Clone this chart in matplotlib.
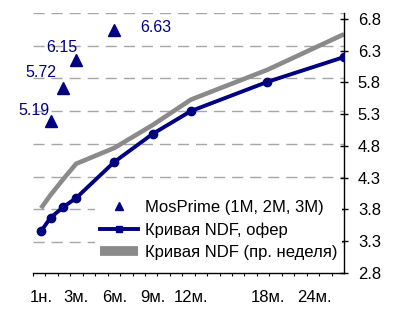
import numpy as np
import matplotlib
matplotlib.use('Agg')
import matplotlib.pyplot as plt
from matplotlib.transforms import ScaledTranslation

plt.rcParams['font.family'] = ['Liberation Sans', 'DejaVu Sans']

# tenors in months
tenor = [0.25, 1, 2, 3, 6, 9, 12, 18, 24]
ndf_offer = [3.46, 3.67, 3.84, 3.98, 4.55, 4.99, 5.35, 5.81, 6.20]
ndf_prev = [3.82, 4.03, 4.28, 4.52, 4.77, 5.13, 5.53, 6.00, 6.56]

mos_tenor = [1, 2, 3, 6]
mosprime = [5.19, 5.72, 6.15, 6.63]

xtick_pos = [0.25, 3, 6, 9, 12, 18, 24]
xtick_lab = ['1н.', '3м.', '6м.', '9м.', '12м.', '18м.', '24м.']
yticks = [2.8, 3.3, 3.8, 4.3, 4.8, 5.3, 5.8, 6.3, 6.8]
grid_vals = [3.3, 3.8, 4.3, 4.8, 5.3, 5.8, 6.3, 6.8]

navy = '#000080'
grey = '#8a8a8a'

fig = plt.figure(figsize=(3.93, 3.09), dpi=100)
ax = fig.add_axes([33/393, 36/309, 311/393, 260/309])

# gridlines sit on their own (slightly different) scale, like in the original
axg = ax.twinx()
axg.set_ylim(2.826, 6.8)
axg.set_yticks(grid_vals)
axg.tick_params(right=False, labelright=False, left=False, labelleft=False)
axg.grid(axis='y', color='#a6a6a6', linestyle=(0, (8, 5)), linewidth=1)
for s in axg.spines.values():
    s.set_visible(False)
ax.set_zorder(axg.get_zorder() + 1)
ax.patch.set_visible(False)

ax.plot(tenor, ndf_prev, color=grey, linewidth=3.3, solid_capstyle='butt',
        label='Кривая NDF (пр. неделя)', zorder=2)
ax.plot(tenor, ndf_offer, color=navy, linewidth=2.8, marker='o', markersize=6,
        label='Кривая NDF, офер', zorder=3)
ax.plot(mos_tenor, mosprime, linestyle='none', marker='^', markersize=9,
        color=navy, label='MosPrime (1M, 2M, 3M)', zorder=4)

offsets = [(-17, 11), (-22, 15), (-14, 13), (41, 2)]
for x, v, off in zip(mos_tenor, mosprime, offsets):
    ax.annotate('%.2f' % v, (x, v), xytext=off, textcoords='offset pixels',
                ha='center', va='center', color=navy, fontsize=11.5)

ax.set_xlim(-0.38, 24)
ax.set_ylim(2.8, 6.894)

ax.yaxis.tick_right()
ax.set_yticks(yticks)
ax.set_yticklabels(['%.1f' % t for t in yticks])
ax.tick_params(axis='y', direction='inout', length=6, width=1, pad=7,
               labelsize=12)

ax.set_xticks(xtick_pos)
ax.set_xticklabels(xtick_lab)
ax.set_xticks(np.linspace(-0.38, 24, 26), minor=True)
ax.tick_params(axis='x', which='major', length=0, pad=12, labelsize=12)
ax.tick_params(axis='x', which='minor', direction='out', length=2, width=0.8)
ax.get_xticklabels()[-1].set_transform(
    ax.get_xticklabels()[-1].get_transform()
    + ScaledTranslation(-0.30, 0, fig.dpi_scale_trans))

ax.spines['top'].set_visible(False)
ax.spines['left'].set_visible(False)
ax.spines['right'].set_linewidth(1)
ax.spines['bottom'].set_linewidth(1)

handles, labels = ax.get_legend_handles_labels()
order = [2, 1, 0]
leg = ax.legend([handles[i] for i in order], [labels[i] for i in order],
                loc='lower right', bbox_to_anchor=(0.995, 0.03),
                frameon=True, fancybox=False, edgecolor='none',
                facecolor='white', framealpha=1, fontsize=12,
                handlelength=2.3, handletextpad=0.4, labelspacing=0.45,
                borderpad=0.3, borderaxespad=0)
lh = leg.legend_handles
lh[0].set_markersize(6)
lh[1].set_markersize(4)
lh[1].set_marker('s')
lh[2].set_linewidth(7)

fig.savefig('out.png', dpi=100)
